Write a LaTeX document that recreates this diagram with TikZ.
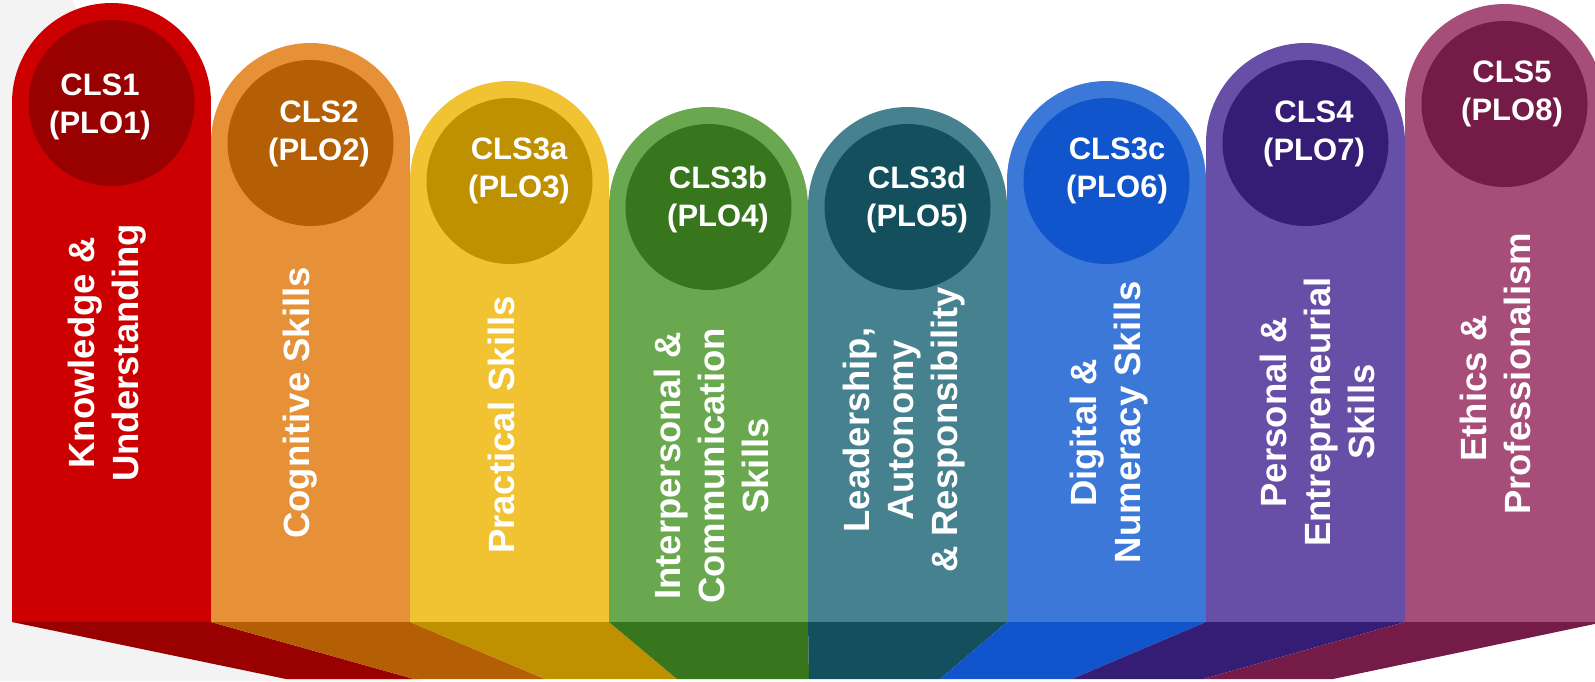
\documentclass[tikz,border=0pt]{standalone}
\usepackage{fontspec}
\setmainfont{Liberation Sans}

\definecolor{bgGray}{HTML}{F3F3F3}
\definecolor{pRed}{HTML}{CC0000}    \definecolor{pRedDk}{HTML}{990000}
\definecolor{pOrange}{HTML}{E69138} \definecolor{pOrangeDk}{HTML}{B45F06}
\definecolor{pYellow}{HTML}{F1C232} \definecolor{pYellowDk}{HTML}{BF9000}
\definecolor{pGreen}{HTML}{6AA84F}  \definecolor{pGreenDk}{HTML}{38761D}
\definecolor{pTeal}{HTML}{45818E}   \definecolor{pTealDk}{HTML}{134F5C}
\definecolor{pBlue}{HTML}{3C78D8}   \definecolor{pBlueDk}{HTML}{1155CC}
\definecolor{pPurple}{HTML}{674EA7} \definecolor{pPurpleDk}{HTML}{351C75}
\definecolor{pPink}{HTML}{A64D79}   \definecolor{pPinkDk}{HTML}{741B47}

\begin{document}
\begin{tikzpicture}[x=1pt, y=-1pt,
    cls/.style={text=white, font=\fontsize{31}{38}\selectfont\bfseries, align=center, inner sep=0pt},
    skill/.style={text=white, font=\fontsize{36.5}{44}\selectfont\bfseries, align=center, inner sep=0pt, rotate=90}]
    \useasboundingbox (0,0) rectangle (1595,681);
    \clip (0,0) rectangle (1595,681);
    \fill[bgGray] (0,0) -- (72,0) -- (422,681) -- (0,681) -- cycle;
    % pillars: left edge / top / fan bottom left / fan bottom right / colours
    \foreach \l/\t/\bl/\br/\ca/\cb in {12/3/286/414/pRed/pRedDk, 211/43/414/545/pOrange/pOrangeDk,
        410/81/545/677/pYellow/pYellowDk, 609/107/677/809/pGreen/pGreenDk,
        808/107/809/940/pTeal/pTealDk, 1007/81/940/1072/pBlue/pBlueDk,
        1206/43/1072/1203/pPurple/pPurpleDk, 1405/4/1203/1333/pPink/pPinkDk}{
        \fill[\cb] (\l,622) -- (\l+199,622) -- (\br,679) -- (\bl,679) -- cycle;
        \fill[\ca] (\l,\t+99.5) rectangle (\l+199,622);
        \fill[\ca] (\l+99.5,\t+99.5) circle (99.5);
        \fill[\cb] (\l+99.5,\t+100) circle (83);
    }
    \node[cls] (cls1) at (100,107) {CLS1\\(PLO1)};
    \node[cls] (cls2) at (319,134) {CLS2\\(PLO2)};
    \node[cls] (cls3a) at (519,171) {CLS3a\\(PLO3)};
    \node[cls] (cls3b) at (718,199) {CLS3b\\(PLO4)};
    \node[cls] (cls3d) at (917,199) {CLS3d\\(PLO5)};
    \node[cls] (cls3c) at (1117,171) {CLS3c\\(PLO6)};
    \node[cls] (cls4) at (1314,134) {CLS4\\(PLO7)};
    \node[cls] (cls5) at (1512,94) {CLS5\\(PLO8)};

    \node[skill] (skill1) at (107,353) {Knowledge \&\\Understanding};
    \node[skill] (skill2) at (300,403) {Cognitive Skills};
    \node[skill] (skill3) at (501,425) {Practical Skills};
    \node[skill] (skill4) at (711,466) {Interpersonal \&\\Communication\\Skills};
    \node[skill] (skill5) at (904,430) {Leadership,\\Autonomy\\\& Responsibility};
    \node[skill] (skill6) at (1109,422) {Digital \&\hspace*{0.6em}\\Numeracy Skills};
    \node[skill] (skill7) at (1317,412) {Personal \&\\Entrepreneurial\\Skills};
    \node[skill] (skill8) at (1495,374) {Ethics \&\hspace*{0.8em}\\Professionalism};
\end{tikzpicture}
\end{document}
